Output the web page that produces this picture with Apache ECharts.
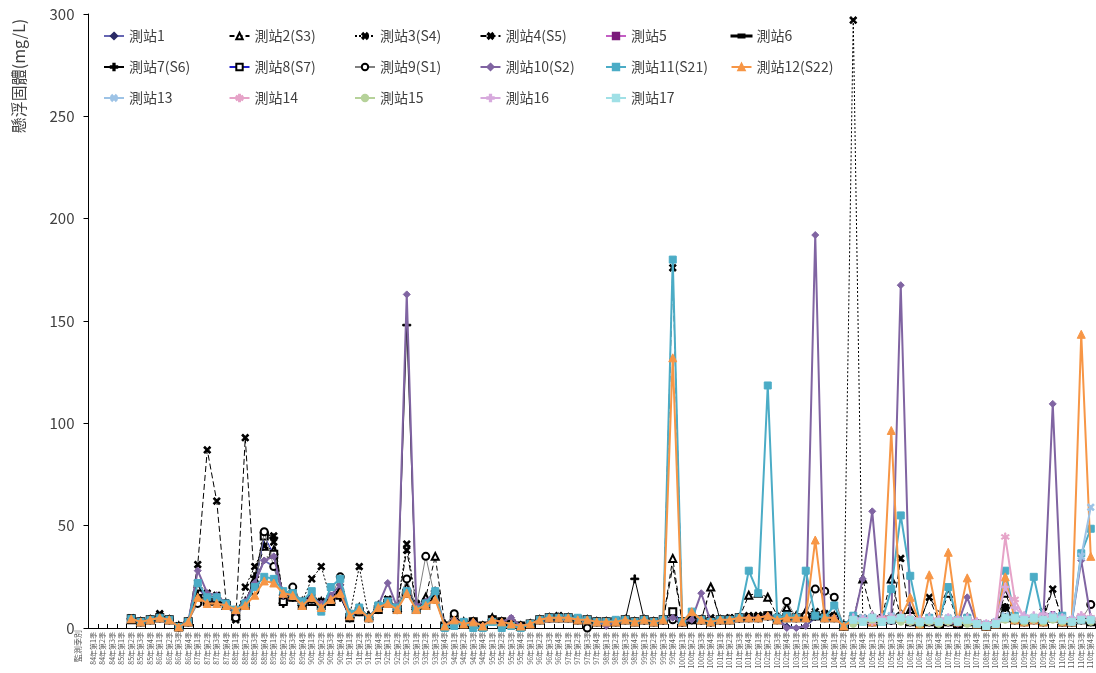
<!DOCTYPE html>
<html>
<head>
<meta charset="utf-8">
<script src="https://cdn.jsdelivr.net/npm/echarts@6/dist/echarts.min.js"></script>
<style>
html,body{margin:0;padding:0;background:#fff;}
#chart{width:1096px;height:673px;}
</style>
</head>
<body>
<div id="chart"></div>
<script>
// Quarterly sampling periods (no 92年第4季 sample)
const quarters = [
  '84年第1季','84年第2季','84年第3季',
  '85年第1季','85年第2季','85年第3季','85年第4季',
  '86年第1季','86年第2季','86年第3季','86年第4季',
  '87年第1季','87年第2季','87年第3季','87年第4季',
  '88年第1季','88年第2季','88年第3季','88年第4季',
  '89年第1季','89年第2季','89年第3季','89年第4季',
  '90年第1季','90年第2季','90年第3季','90年第4季',
  '91年第1季','91年第2季','91年第3季','91年第4季',
  '92年第1季','92年第2季','92年第3季',
  '93年第1季','93年第2季','93年第3季','93年第4季',
  '94年第1季','94年第2季','94年第3季','94年第4季',
  '95年第1季','95年第2季','95年第3季','95年第4季',
  '96年第1季','96年第2季','96年第3季','96年第4季',
  '97年第1季','97年第2季','97年第3季','97年第4季',
  '98年第1季','98年第2季','98年第3季','98年第4季',
  '99年第1季','99年第2季','99年第3季','99年第4季',
  '100年第1季','100年第2季','100年第3季','100年第4季',
  '101年第1季','101年第2季','101年第3季','101年第4季',
  '102年第1季','102年第2季','102年第3季','102年第4季',
  '103年第1季','103年第2季','103年第3季','103年第4季',
  '104年第1季','104年第2季','104年第3季','104年第4季',
  '105年第1季','105年第2季','105年第3季','105年第4季',
  '106年第1季','106年第2季','106年第3季','106年第4季',
  '107年第1季','107年第2季','107年第3季','107年第4季',
  '108年第1季','108年第2季','108年第3季','108年第4季',
  '109年第1季','109年第2季','109年第3季','109年第4季',
  '110年第1季','110年第2季','110年第3季','110年第4季'
];

const yTicks = [0, 50, 100, 150, 200, 250, 300];

// Suspended solids (mg/L) per station
const st1 = [null,null,null,null,4.5,3,4,5,4,0.5,
  3.5,20,14,13,12,7,11,22,33,30,
  17,16,12,14,11,15,19,6,9,5,
  10,14,9,20,10,11,15,1,4,2,
  3,1,4,3,2,1,2,4,5,5,
  5,4,4,3,1,3,4,3,3,3,
  3,5,2,4,3,2,3,4,4,5,
  5,5,4,1,0,1,5,5,5,1,
  3,4,5,3,3,5,3,2,3,2,
  3,2,3,2,1,2,5,4,3,4,
  3,5,3,3,4,3];
const st2 = [null,null,null,null,4,3,4,5,4,1,
  3,20,16,15,11,6,13,24,40,38,
  14,18,13,16,13,14,18,7,10,6,
  11,13,10,20,11,15,35,2,4,3,
  3,1,5,3,2,1,2,4,5,5,
  5,4,4,3,3,3,4,3,4,3,
  4,34,3,5,4,20,4,4,5,16,
  17,15,6,10,6,8,6,7,6,1,
  4,24,6,5,24,5,9,3,5,3,
  17,3,5,2,1,2,17,6,4,5,
  4,5,3,3,5,4];
const st3 = [null,null,null,null,5,3,4,6,4,1,
  3,22,17,16,12,5,20,30,40,42,
  16,17,13,24,30,14,18,6,30,5,
  11,14,10,41,12,13,16,1,4,2,
  3,1,4,3,2,1,2,4,5,6,
  5,4,4,3,3,3,4,3,4,3,
  4,8,3,4,4,5,4,5,5,6,
  6,6,5,6,5,6,8,7,6,1,
  297,5,4,4,5,6,4,3,4,3,
  4,3,4,2,1,2,10,5,4,5,
  4,5,4,3,5,4];
const st4 = [null,null,null,null,4.5,3,4,7,4,0.5,
  3,31,87,62,12,4,93,20,46,45,
  15,17,12,15,13,14,20,6,9,5,
  10,14,10,38,11,12,15,1,4,2,
  3,1,4,3,2,1,2,4,5,5,
  5,4,4,3,3,3,4,3,4,3,
  4,176,3,5,4,4,4,5,5,5,
  6,6,5,6,5,5,6,5,5,1,
  5,4,3,5,4,34,4,3,15,3,
  4,3,5,2,1,2,10,5,4,5,
  8,19,4,3,5,4];
const st5 = [null,null,null,null,null,null,null,null,null,null,
  null,null,null,null,null,null,null,null,null,null,
  null,null,null,null,null,null,null,null,null,null,
  null,null,null,null,null,null,null,1,3,2,
  3,1,4,0,5,1,2,4,4,5,
  5,4,4,3,3,3,4,3,4,3,
  4,5,3,4,4,3,4,4,5,5,
  5,6,4,5,5,5,6,5,5,1,
  3,4,4,3,3,5,3,2,3,2,
  3,2,3,2,1,2,5,4,3,4,
  3,7,3,3,5,3];
const st6 = [null,null,null,null,4,3,4,5,4,0.5,
  3,18,15,14,11,6,12,21,35,34,
  16,16,12,15,12,14,19,6,9,5,
  10,14,10,19,10,12,16,1,4,2,
  3,1,4,3,2,1,2,4,5,5,
  5,4,4,3,3,3,4,3,4,3,
  4,30,3,4,4,19,4,4,5,6,
  6,6,5,6,5,6,6,5,5,1,
  4,5,4,4,4,9,5,3,15,8,
  4,3,5,2,1,2,12,6,4,5,
  4,19,4,3,5,4];
const st7 = [null,null,null,null,4.5,3,4,5,4,0.5,
  3,16,14,14,11,6,12,25,46.5,44,
  12,15,12,14,11,14,15,5,8,5,
  9,12,9,148,10,12,18,1,4,2,
  3,1,4,3,2,1,2,4,5,5,
  5,4,4,3,3,3,4,24,4,3,
  4,5,3,4,4,3,4,4,5,5,
  5,6,4,5,5,5,6,5,5,1,
  4,4,3,4,4,5,3,2,3,2,
  3,2,3,2,1,2,10,4,3,4,
  3,5,3,3,4,3];
const st8 = [null,null,null,null,4.5,3,4,5,4,0.5,
  3,14,13,13,11,6,11,20,45,36,
  13,15,11,13,11,13,16,5,8,5,
  9,12,9,17,9,11,15,1,4,2,
  3,1,4,3,2,1,2,4,5,5,
  5,4,4,3,3,3,4,3,4,3,
  4,8,3,4,4,3,4,4,5,5,
  5,6,4,5,5,5,6,5,5,1,
  4,4,3,4,4,5,3,2,3,2,
  3,2,3,2,1,2,5,4,3,4,
  3,5,3,3,4,3];
const st9 = [null,null,null,null,4.5,3,4,5,4,0.5,
  3,12,14,14,12,5,12,18,47,30,
  16,20,12,14,11,15,25,5,9,5,
  10,12,10,24,10,35,14,1,7,2,
  3,1,4,3,2,1,2,4,5,5,
  5,4,0,3,3,3,4,3,4,3,
  4,4,3,4,4,3,4,4,5,5,
  5,6,5,13,5,6,19,18,15,1,
  4,4,3,4,4,5,3,2,3,2,
  3,2,3,2,1,2,5,4,3,4,
  3,5,3,3,4,11.5];
const st10 = [null,null,null,null,4.5,3,4,5,4,0.5,
  3,28,17,16,12,8,13,22,33,35,
  16,17,12,15,12,16,21,6,9,5,
  11,22,10,163,11,13,18,1,4,2,
  3,1,4,3,5,1,2,4,5,5,
  5,4,4,3,1,3,4,3,4,3,
  4,5,3,4,17,3,4,4,5,5,
  5,6,4,0,0,1,192,5,5,1,
  3,24,57,4,4,167.5,3,2,3,2,
  3,2,15,2,1,2,5,4,3,4,
  3,109.5,3,3,33,5];
const st11 = [null,null,null,null,4.5,3,4,5,4,0.5,
  3,22,15,15,12,9,12,20,25,24,
  18,17,13,18,8,20,24,7,10,5,
  11,13,10,18,9,12,18,0,1,3,
  0,0,3,0,1,0,2,4,5,5,
  5,5,4,3,3,4,4,3,4,3,
  4,180,3,8,4,3,4,4,5,28,
  17,118.5,5,6,5,28,6,5,11,1,
  6,4,5,3,19,55,25.5,3,5,3,
  20,4,5,2,1,2,28,6,4,25,
  4,5,6,3,36.5,48.5];
const st12 = [null,null,null,null,4.5,3,4,5,4,0.5,
  3,15,12,12,11,9,11,16,23,22,
  17,16,11,15,10,14,17,6,9,5,
  10,12,9,17,9,11,14,1,4,2,
  3,1,4,3,2,1,2,4,5,5,
  5,4,4,3,3,3,4,3,4,3,
  4,132,3,8,4,3,4,4,5,5,
  5,6,4,5,5,5,43,5,5,1,
  4,4,3,4,96.5,5,15,2,26,3,
  37,3,24.5,2,1,2,25,4,3,4,
  3,5,3,3,143.5,35];
const st13 = [null,null,null,null,null,null,null,null,null,null,
  null,null,null,null,null,null,null,null,null,null,
  null,null,null,null,null,null,null,null,null,null,
  null,null,null,null,null,null,null,null,null,null,
  null,null,null,null,null,null,null,null,null,null,
  null,null,null,null,null,null,null,null,null,null,
  null,null,null,null,null,null,null,null,null,null,
  null,null,null,null,null,null,null,null,null,null,
  3,5,4,4,6,5,4,3,4,3,
  5,4,3,2,2,3,6,5,4,5,
  4,6,5,4,35,59];
const st14 = [null,null,null,null,null,null,null,null,null,null,
  null,null,null,null,null,null,null,null,null,null,
  null,null,null,null,null,null,null,null,null,null,
  null,null,null,null,null,null,null,null,null,null,
  null,null,null,null,null,null,null,null,null,null,
  null,null,null,null,null,null,null,null,null,null,
  null,null,null,null,null,null,null,null,null,null,
  null,null,null,null,null,null,null,null,null,null,
  4,4,3,5,5,4,3,4,3,4,
  3,4,4,3,2,3,44.5,14,5,4,
  5,5,4,4,6,5];
const st15 = [null,null,null,null,null,null,null,null,null,null,
  null,null,null,null,null,null,null,null,null,null,
  null,null,null,null,null,null,null,null,null,null,
  null,null,null,null,null,null,null,null,null,null,
  null,null,null,null,null,null,null,null,null,null,
  null,null,null,null,null,null,null,null,null,null,
  null,null,null,null,null,null,null,null,null,null,
  null,null,null,null,null,null,null,null,null,null,
  2,3,4,3,4,3,3,2,3,2,
  3,3,2,2,1,2,4,4,3,4,
  3,4,3,3,4,3];
const st16 = [null,null,null,null,null,null,null,null,null,null,
  null,null,null,null,null,null,null,null,null,null,
  null,null,null,null,null,null,null,null,null,null,
  null,null,null,null,null,null,null,null,null,null,
  null,null,null,null,null,null,null,null,null,null,
  null,null,null,null,null,null,null,null,null,null,
  null,null,null,null,null,null,null,null,null,null,
  null,null,null,null,null,null,null,null,null,null,
  5,4,6,4,5,6,5,4,5,4,
  5,4,5,3,2,3,20,10,6,6,
  7,6,5,4,6,5];
const st17 = [null,null,null,null,null,null,null,null,null,null,
  null,null,null,null,null,null,null,null,null,null,
  null,null,null,null,null,null,null,null,null,null,
  null,null,null,null,null,null,null,null,null,null,
  null,null,null,null,null,null,null,null,null,null,
  null,null,null,null,null,null,null,null,null,null,
  null,null,null,null,null,null,null,null,null,null,
  null,null,null,null,null,null,null,null,null,null,
  4,3,5,3,4,5,4,3,4,3,
  4,3,4,2,1,2,5,5,4,5,
  4,5,4,3,4,4];

const names = ['測站1','測站2(S3)','測站3(S4)','測站4(S5)','測站5','測站6',
  '測站7(S6)','測站8(S7)','測站9(S1)','測站10(S2)','測站11(S21)','測站12(S22)',
  '測站13','測站14','測站15','測站16','測站17'];
const values = [st1,st2,st3,st4,st5,st6,st7,st8,st9,st10,st11,st12,st13,st14,st15,st16,st17];

// Custom marker shapes
const PLUS = 'path://M4,0H6V4H10V6H6V10H4V6H0V4H4Z';
const STAR = 'path://M4.3,0H5.7V3.8L9,1.9L9.7,3.1L6.4,5L9.7,6.9L9,8.1L5.7,6.2V10H4.3V6.2L1,8.1L0.3,6.9L3.6,5L0.3,3.1L1,1.9L4.3,3.8Z';
const DASH = 'path://M0,3.5H10V6.5H0Z';
// Legend key for the marker-less dashed series: three dashes, the middle one heavier
const DASH_KEY = 'path://M0,1H5V2H0Z M7,0H13V3H7Z M15,1H20V2H15Z';

// Per-station look: line colour, line width, dash, marker
const looks = [
  {line:'#6666b3', mark:'#2a2a66', w:1.8, type:'solid', sym:'diamond', size:6},
  {line:'#000000', mark:'#000000', w:1, type:[5,3], sym:'emptyTriangle', size:7},
  {line:'#000000', mark:'#000000', w:1, type:[2,2], sym:PLUS, size:8, rot:45},
  {line:'#000000', mark:'#000000', w:1, type:[6,3], sym:PLUS, size:8, rot:45},
  {line:'#c45ec4', mark:'#7a1a7a', w:1.8, type:'solid', sym:'rect', size:4},
  {line:'#000000', mark:'#000000', w:1, type:[7,4], sym:DASH, size:7, hide:true},
  {line:'#000000', mark:'#000000', w:1, type:'solid', sym:PLUS, size:8},
  {line:'#2222cc', mark:'#000000', w:1, type:'solid', sym:'emptyRect', size:7},
  {line:'#808080', mark:'#000000', w:1, type:'solid', sym:'emptyCircle', size:7},
  {line:'#8064a2', mark:'#8064a2', w:2, type:'solid', sym:'diamond', size:7},
  {line:'#4bacc6', mark:'#4bacc6', w:2, type:'solid', sym:'rect', size:7},
  {line:'#f79646', mark:'#f79646', w:2, type:'solid', sym:'triangle', size:8},
  {line:'#9dc3e6', mark:'#9dc3e6', w:2, type:'solid', sym:PLUS, size:8, rot:45},
  {line:'#e6a3c8', mark:'#e6a3c8', w:2, type:'solid', sym:STAR, size:8},
  {line:'#b6d29a', mark:'#b6d29a', w:2, type:'solid', sym:'circle', size:7},
  {line:'#d7a9dd', mark:'#d7a9dd', w:2, type:'solid', sym:PLUS, size:8},
  {line:'#a0e0e6', mark:'#a0e0e6', w:2, type:'solid', sym:DASH, size:7}
];

const FONT = '"Noto Sans CJK TC", "Noto Sans", sans-serif';

const series = names.map((n, k) => {
  const lk = looks[k];
  return {
    name: n,
    type: 'line',
    data: values[k],
    connectNulls: false,
    symbol: lk.sym,
    symbolSize: lk.size,
    symbolRotate: lk.rot || 0,
    showSymbol: !lk.hide,
    lineStyle: {color: lk.line, width: lk.w, type: lk.type},
    itemStyle: {color: lk.mark, borderColor: lk.mark, borderWidth: 1},
    emphasis: {disabled: true},
    z: 2 + k
  };
});

// One legend entry per station, laid out on a fixed 6-column grid
const legends = names.map((n, k) => {
  const plain = looks[k].hide;
  return {
    data: plain ? [{name: n, icon: DASH_KEY}] : [n],
    left: 103 + (k % 6) * 125.5,
    top: 29 + Math.floor(k / 6) * 31,
    padding: 0,
    itemWidth: 20,
    itemHeight: plain ? 3 : 8,
    selectedMode: false,
    textStyle: {fontFamily: FONT, fontSize: 14, color: '#404040'}
  };
});

const chart = echarts.init(document.getElementById('chart'), null, {renderer: 'canvas'});
chart.setOption({
  animation: false,
  backgroundColor: '#ffffff',
  grid: {left: 88.5, right: 0.5, top: 14, bottom: 45, containLabel: false},
  legend: legends,
  xAxis: {
    type: 'category',
    data: quarters,
    boundaryGap: true,
    axisLine: {lineStyle: {color: '#000', width: 1}},
    axisTick: {show: true, inside: true, length: 4, lineStyle: {color: '#000'}},
    axisLabel: {rotate: 90, interval: 0, fontSize: 7, color: '#595959', margin: 4, fontFamily: FONT},
    splitLine: {show: false}
  },
  yAxis: {
    type: 'value',
    min: yTicks[0],
    max: yTicks[yTicks.length - 1],
    interval: 50,
    axisLine: {show: true, lineStyle: {color: '#000', width: 1}},
    axisTick: {show: true, length: 5, lineStyle: {color: '#000'}},
    axisLabel: {fontSize: 15, color: '#404040', margin: 14, fontFamily: FONT},
    splitLine: {show: false}
  },
  graphic: [
    {type: 'text', x: 19, y: 76, rotation: Math.PI / 2,
      style: {text: '懸浮固體(mg/L)', font: '16px ' + FONT, fill: '#404040', textAlign: 'center', textVerticalAlign: 'middle'}},
    {type: 'text', x: 78, y: 646, rotation: Math.PI / 2,
      style: {text: '監測季別', font: '8px ' + FONT, fill: '#595959', textAlign: 'center', textVerticalAlign: 'middle'}}
  ],
  series: series
});
</script>
</body>
</html>
